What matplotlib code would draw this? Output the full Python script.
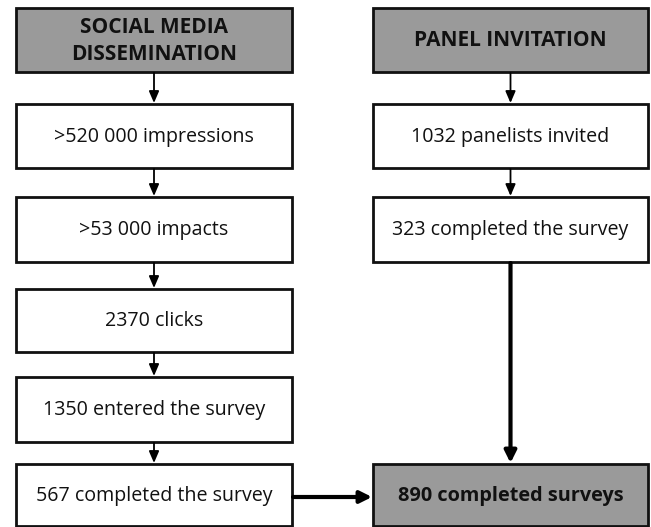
import matplotlib.pyplot as plt
from matplotlib.patches import Rectangle

# ------------------------------------------------------------
# Texts of the flow chart
# ------------------------------------------------------------
left_header = "SOCIAL MEDIA\nDISSEMINATION"
left_steps = [">520 000 impressions", ">53 000 impacts", "2370 clicks",
              "1350 entered the survey", "567 completed the survey"]
right_header = "PANEL INVITATION"
right_steps = ["1032 panelists invited", "323 completed the survey"]
final_label = "890 completed surveys"

# ------------------------------------------------------------
# Layout (pixel units, y going down)
# ------------------------------------------------------------
W, H = 651, 527
left_x = (16, 292)
right_x = (373, 648)
header_y = (8, 72)
left_rows = [(104, 168), (197, 262), (289, 352), (377, 442), (464, 526)]
right_rows = [(104, 168), (197, 262)]
final_y = (464, 526)

gray = "#9a9a9a"
font = "Open Sans"

fig = plt.figure(figsize=(W / 100, H / 100), dpi=100)
ax = fig.add_axes([0, 0, 1, 1])
ax.set_xlim(0, W)
ax.set_ylim(H, 0)
ax.axis("off")


def box(xr, yr, text, fill="white", bold=False, size=14.1):
    ax.add_patch(Rectangle((xr[0], yr[0]), xr[1] - xr[0], yr[1] - yr[0],
                           facecolor=fill, edgecolor="#111111", lw=2))
    ax.text((xr[0] + xr[1]) / 2, (yr[0] + yr[1]) / 2 + 1, text,
            ha="center", va="center", fontsize=size, family=font,
            fontweight="bold" if bold else "normal", color="#111111",
            linespacing=1.35)


def arrow(p0, p1, thick=False):
    if thick:
        props = dict(arrowstyle="-|>,head_length=0.7,head_width=0.35",
                     lw=3, color="black", shrinkA=0, shrinkB=0)
    else:
        props = dict(arrowstyle="-|>,head_length=0.7,head_width=0.3",
                     lw=1.3, color="black", shrinkA=0, shrinkB=0)
    ax.annotate("", xy=p1, xytext=p0, arrowprops=props)


# left column
box(left_x, header_y, left_header, fill=gray, bold=True, size=15)
for rows, label in zip(left_rows, left_steps):
    box(left_x, rows, label)
cx = (left_x[0] + left_x[1]) / 2
prev = header_y
for rows in left_rows:
    arrow((cx, prev[1] + 1), (cx, rows[0] - 1))
    prev = rows

# right column
box(right_x, header_y, right_header, fill=gray, bold=True, size=15)
for rows, label in zip(right_rows, right_steps):
    box(right_x, rows, label)
rx = (right_x[0] + right_x[1]) / 2
prev = header_y
for rows in right_rows:
    arrow((rx, prev[1] + 1), (rx, rows[0] - 1))
    prev = rows

# final box and thick arrows
box(right_x, final_y, final_label, fill=gray, bold=True, size=14.3)
arrow((rx, right_rows[-1][1] + 1), (rx, final_y[0] - 1), thick=True)
ymid = (final_y[0] + final_y[1]) / 2 + 2
arrow((left_x[1] + 1, ymid), (right_x[0] - 1, ymid), thick=True)

plt.savefig("out.png", dpi=100)
